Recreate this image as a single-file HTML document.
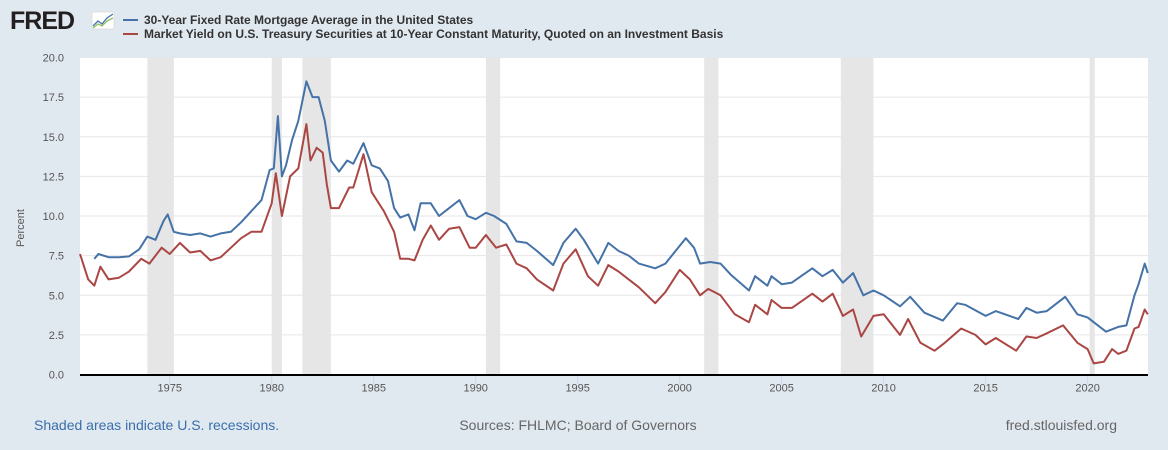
<!DOCTYPE html>
<html><head><meta charset="utf-8"><style>
body{margin:0;width:1168px;height:450px;background:#e1e9f0;font-family:"Liberation Sans",sans-serif;overflow:hidden}
svg{position:absolute;left:0;top:0}
</style></head><body>
<svg id="c" width="1168" height="450">
<g>
<text x="10" y="29" font-size="25" font-weight="bold" fill="#231f20" font-family="Liberation Sans" letter-spacing="-1">FRED</text>
<rect x="92" y="12" width="22" height="17" fill="#fff" stroke="#ccc" stroke-width="0.5"/>
<polyline points="93,26 98,21 102,24 107,18 113,14" fill="none" stroke="#4572a7" stroke-width="1.3"/>
<polyline points="93,28 98,24 102,26 107,21 113,18" fill="none" stroke="#8dc060" stroke-width="1.3"/>
</g>
<g>
<line x1="123" y1="20" x2="138" y2="20" stroke="#4572a7" stroke-width="2"/>
<text x="144" y="24" font-size="12" font-weight="bold" fill="#333">30-Year Fixed Rate Mortgage Average in the United States</text>
<line x1="123" y1="34" x2="138" y2="34" stroke="#aa4643" stroke-width="2"/>
<text x="144" y="38" font-size="12" font-weight="bold" fill="#333">Market Yield on U.S. Treasury Securities at 10-Year Constant Maturity, Quoted on an Investment Basis</text>
</g>
<rect x="80" y="57" width="1068" height="318" fill="#fff"/>
<g id="rec"></g><g id="grid"></g><g id="ser"></g><g id="ax"></g>
<text transform="translate(24,228) rotate(-90)" text-anchor="middle" font-size="11" fill="#555">Percent</text>
<text x="34" y="430" font-size="14" fill="#3a6eab">Shaded areas indicate U.S. recessions.</text>
<text x="578" y="430" text-anchor="middle" font-size="14" fill="#666">Sources: FHLMC; Board of Governors</text>
<text x="1117" y="430" text-anchor="end" font-size="14" fill="#666">fred.stlouisfed.org</text>
</svg>
<script>
const yTicks=[0,2.5,5,7.5,10,12.5,15,17.5,20];
const xTicks=[1975,1980,1985,1990,1995,2000,2005,2010,2015,2020];
const recessions=[[1973.9,1975.2],[1980.0,1980.5],[1981.5,1982.9],[1990.5,1991.2],[2001.2,2001.9],[2007.9,2009.5],[2020.1,2020.35]];
const mortDates=[1971.3,1971.5,1972,1972.5,1973,1973.5,1973.9,1974.3,1974.7,1974.9,1975.2,1975.5,1976,1976.5,1977,1977.5,1978,1978.5,1979,1979.5,1979.9,1980.1,1980.3,1980.5,1980.7,1981,1981.3,1981.7,1982,1982.3,1982.6,1982.9,1983.3,1983.7,1984,1984.5,1984.9,1985.3,1985.7,1986,1986.3,1986.7,1987,1987.3,1987.8,1988.2,1988.7,1989.2,1989.6,1990,1990.5,1990.9,1991.5,1992,1992.5,1993,1993.8,1994.3,1994.9,1995.3,1996,1996.5,1997,1997.5,1998,1998.8,1999.3,2000.3,2000.7,2001,2001.5,2002,2002.5,2003.4,2003.7,2004.3,2004.5,2005,2005.5,2006.5,2007,2007.5,2008,2008.5,2009,2009.5,2010,2010.8,2011.3,2012,2012.9,2013.6,2014,2015,2015.5,2016.6,2017,2017.5,2018,2018.9,2019.5,2020,2020.9,2021.5,2021.9,2022.3,2022.5,2022.8,2022.95];
const mortVals=[7.3,7.6,7.4,7.4,7.45,7.9,8.7,8.5,9.7,10.1,9.0,8.9,8.8,8.9,8.7,8.9,9.0,9.6,10.3,11.0,12.9,13.0,16.3,12.5,13.2,14.8,16.0,18.5,17.5,17.5,16.0,13.5,12.8,13.5,13.3,14.6,13.2,13.0,12.2,10.5,9.9,10.1,9.1,10.8,10.8,10.0,10.5,11.0,10.0,9.8,10.2,10.0,9.5,8.4,8.3,7.8,6.9,8.3,9.2,8.5,7.0,8.3,7.8,7.5,7.0,6.7,7.0,8.6,8.0,7.0,7.1,7.0,6.3,5.3,6.2,5.6,6.2,5.7,5.8,6.7,6.2,6.6,5.8,6.4,5.0,5.3,5.0,4.3,4.9,3.9,3.4,4.5,4.4,3.7,4.0,3.5,4.2,3.9,4.0,4.9,3.8,3.6,2.7,3.0,3.1,5.0,5.7,7.0,6.4];
const tsyDates=[1970.6,1971,1971.3,1971.6,1972,1972.5,1973,1973.6,1974,1974.6,1975,1975.5,1976,1976.5,1977,1977.5,1978,1978.5,1979,1979.5,1980,1980.2,1980.5,1980.9,1981.3,1981.7,1981.9,1982.2,1982.5,1982.7,1982.9,1983.3,1983.8,1984,1984.5,1984.9,1985.5,1986,1986.3,1986.7,1987,1987.4,1987.8,1988.2,1988.7,1989.2,1989.7,1990,1990.5,1991,1991.5,1992,1992.5,1993,1993.8,1994.3,1994.9,1995.5,1996,1996.5,1997,1997.5,1998,1998.8,1999.3,2000,2000.5,2001,2001.4,2002,2002.7,2003.4,2003.7,2004.3,2004.5,2005,2005.5,2006.5,2007,2007.5,2008,2008.5,2008.9,2009.5,2010,2010.8,2011.2,2011.8,2012.5,2013,2013.8,2014.5,2015,2015.5,2016.5,2017,2017.5,2018,2018.8,2019.5,2020,2020.3,2020.8,2021.2,2021.5,2021.9,2022.3,2022.5,2022.8,2022.95];
const tsyVals=[7.6,6.0,5.6,6.8,6.0,6.1,6.5,7.3,7.0,8.0,7.6,8.3,7.7,7.8,7.2,7.4,8.0,8.6,9.0,9.0,10.8,12.7,10.0,12.5,13.0,15.8,13.5,14.3,14.0,12.0,10.5,10.5,11.8,11.8,13.9,11.5,10.3,9.0,7.3,7.3,7.2,8.5,9.4,8.5,9.2,9.3,8.0,8.0,8.8,8.0,8.2,7.0,6.7,6.0,5.3,7.0,7.9,6.2,5.6,6.9,6.5,6.0,5.5,4.5,5.2,6.6,6.0,5.0,5.4,5.0,3.8,3.3,4.4,3.8,4.7,4.2,4.2,5.1,4.6,5.1,3.7,4.1,2.4,3.7,3.8,2.5,3.5,2.0,1.5,2.0,2.9,2.5,1.9,2.3,1.5,2.4,2.3,2.6,3.1,2.0,1.6,0.7,0.8,1.6,1.3,1.5,2.9,3.0,4.1,3.8];
const NS='http://www.w3.org/2000/svg';
const X0=80,X1=1148,Y0=374.5,Y1=57.5,T0=1970.6,T1=2022.96;
const xs=t=>X0+(t-T0)/(T1-T0)*(X1-X0);
const ys=v=>Y0-(v/20)*(Y0-Y1);
function mk(tag,parent,attrs){const e=document.createElementNS(NS,tag);for(const k in attrs)e.setAttribute(k,attrs[k]);document.getElementById(parent).appendChild(e);return e;}
recessions.forEach(r=>{const e=mk('rect','rec',{x:xs(r[0]),y:Y1,width:xs(r[1])-xs(r[0]),height:Y0-Y1,fill:'#e6e6e6'});

});
yTicks.forEach(v=>{if(v>0){const l=mk('line','grid',{x1:X0,x2:X1,y1:ys(v),y2:ys(v),stroke:'#e6e6e6','stroke-width':1});

}
const t=mk('text','ax',{x:64,y:ys(v)+4,'text-anchor':'end','font-size':11,fill:'#555'});t.textContent=v.toFixed(1);

});
xTicks.forEach(y=>{const l=mk('line','ax',{x1:xs(y),x2:xs(y),y1:Y0,y2:Y0+10,stroke:'#ccd6eb','stroke-width':1});


const t=mk('text','ax',{x:xs(y),y:Y0+17,'text-anchor':'middle','font-size':11,fill:'#555'});t.textContent=y;

});
const axl=mk('line','ax',{x1:X0,x2:X1,y1:Y0+0.5,y2:Y0+0.5,stroke:'#000','stroke-width':2});


function series(d,v,c,name){const p=mk('polyline','ser',{points:d.map((t,i)=>xs(t).toFixed(1)+','+ys(v[i]).toFixed(1)).join(' '),fill:'none',stroke:c,'stroke-width':2,'stroke-linejoin':'round'});

}
series(tsyDates,tsyVals,'#aa4643','treasury-10y-line');
series(mortDates,mortVals,'#4572a7','mortgage-30y-line');
</script>
</body></html>
